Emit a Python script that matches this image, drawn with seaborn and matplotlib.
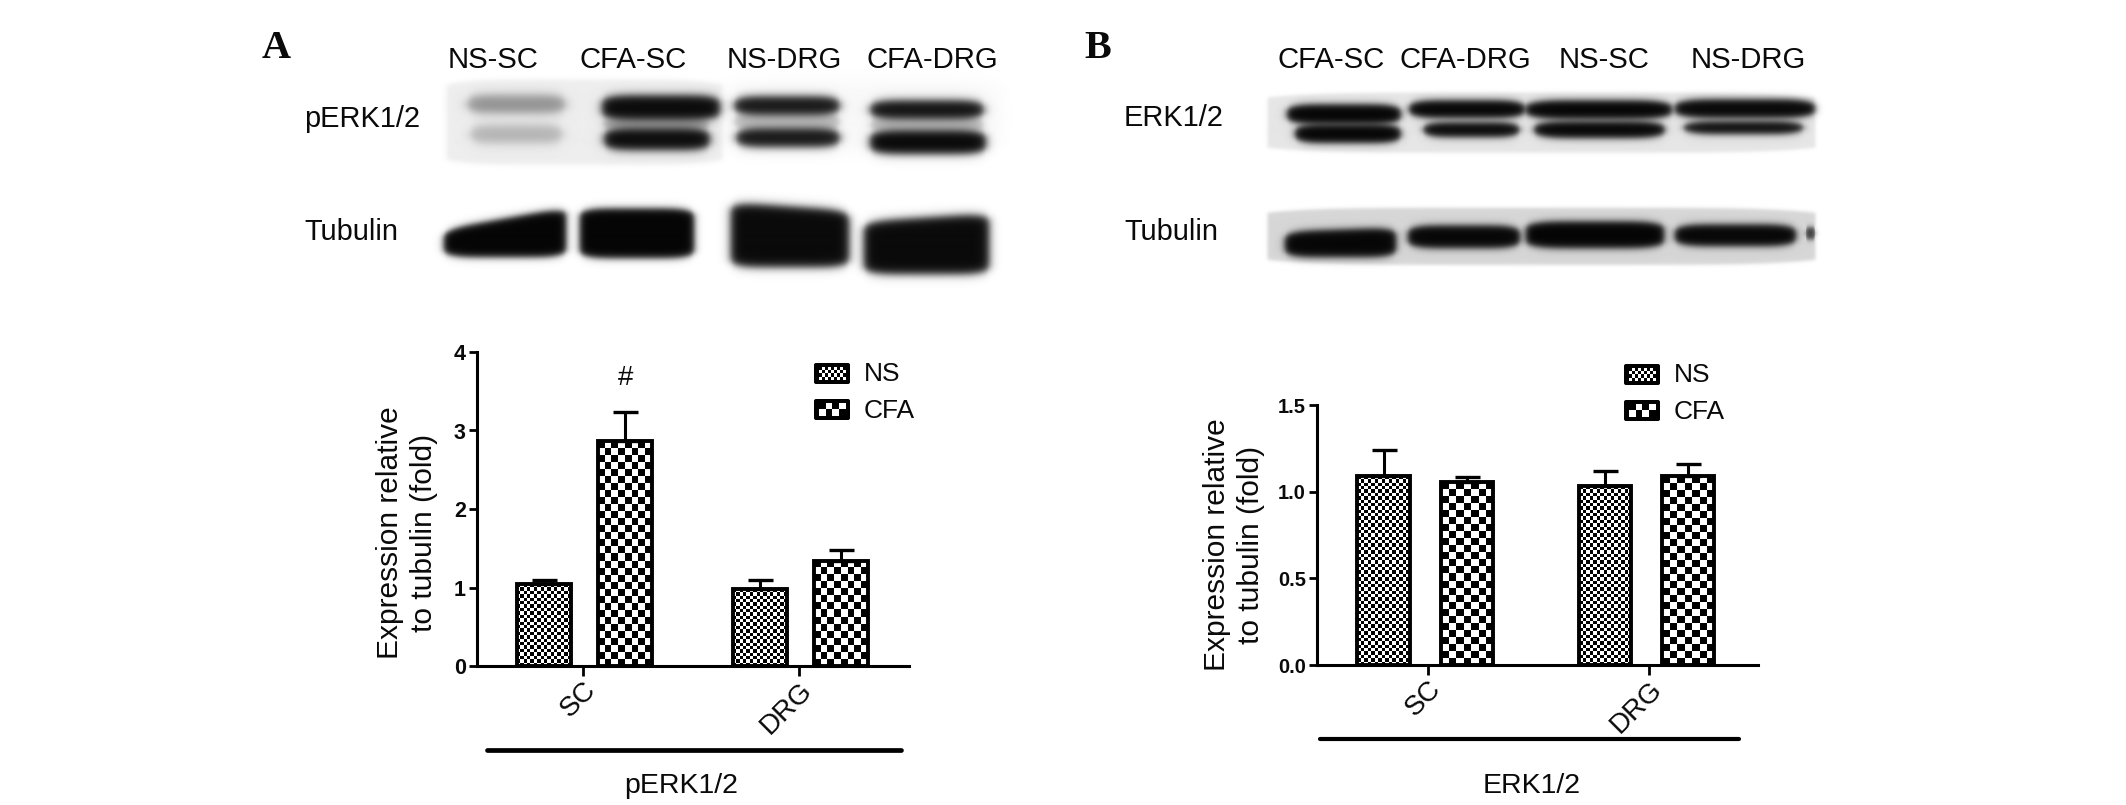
import numpy as np
import pandas as pd
import matplotlib
matplotlib.use('Agg')
import matplotlib.pyplot as plt
from matplotlib.patches import FancyBboxPatch
import seaborn as sns

W, H = 2126, 805

tissues = ['SC', 'DRG']
groups = ['NS', 'CFA']

# values
perk_ns = [1.04, 0.98]
perk_cfa = [2.86, 1.34]
perk_ns_hi = [1.10, 1.09]
perk_cfa_hi = [3.235, 1.48]
perk_ticks = [0, 1, 2, 3, 4]
perk_ticklabels = ['0', '1', '2', '3', '4']

erk_ns = [1.09, 1.03]
erk_cfa = [1.055, 1.09]
erk_ns_hi = [1.24, 1.12]
erk_cfa_hi = [1.087, 1.16]
erk_ticks = [0, 0.5, 1.0, 1.5]
erk_ticklabels = ['0.0', '0.5', '1.0', '1.5']

lanes_a = ['NS-SC', 'CFA-SC', 'NS-DRG', 'CFA-DRG']
lanes_b = ['CFA-SC', 'CFA-DRG', 'NS-SC', 'NS-DRG']

sns.set_theme(style='ticks')
plt.rcParams['font.family'] = ['Liberation Sans', 'DejaVu Sans']
plt.rcParams['text.color'] = '#0a0a0a'

fig = plt.figure(figsize=(W / 100, H / 100), dpi=100, facecolor='white')


def pixel_axes(left, right, top, bottom):
    return fig.add_axes([left / W, 1 - bottom / H, (right - left) / W, (bottom - top) / H])


# blots are drawn as one grey picture behind everything
X, Y = np.meshgrid(np.arange(W), np.arange(H))
blot = np.ones((H, W))


def edge(d, soft):
    return 1 / (1 + np.exp(-d / soft))


def band(x0, x1, y0, y1, level, soft=2.5, top_right=None):
    global blot
    grow = 2.5 if level < 0.8 else 0
    y0, y1 = y0 - grow, y1 + grow
    tr = y0 if top_right is None else top_right - grow
    top = y0 + (tr - y0) * (X - x0) / (x1 - x0)
    # ends of a band curve in a little
    u = np.clip((X - x0) / (x1 - x0), 0, 1)
    round_in = 5 * (2 * u - 1) ** 6
    m = (edge(X - x0, soft) * edge(x1 - X, soft)
         * edge(Y - top - round_in, soft) * edge(y1 - Y - round_in, soft))
    blot = blot * (1 - m * (1 - level))


# A, pERK1/2
band(446, 722, 80, 165, 0.93, 1.5)
band(722, 1000, 82, 150, 0.97, 6)
band(466, 566, 98, 111, 0.60, 3)
band(469, 563, 128, 141, 0.75, 3)
band(601, 720, 98, 118, 0.04, 2.5)
band(603, 710, 131, 148, 0.04, 2.5)
band(733, 840, 99, 113, 0.08, 2.5)
band(735, 840, 131, 145, 0.08, 2.5)
band(869, 984, 103, 117, 0.06, 2.5)
band(869, 986, 133, 152, 0.03, 2.5)
band(733, 840, 116, 128, 0.78, 2)
band(869, 984, 120, 130, 0.78, 2)
band(601, 710, 121, 128, 0.72, 2)

# A, tubulin
band(443, 566, 232, 255, 0.02, 2, top_right=210)
band(579, 694, 211, 256, 0.02, 2)
band(730, 849, 205, 265, 0.04, 2.5, top_right=213)
band(863, 989, 224, 272, 0.04, 2.5, top_right=216)

# B, ERK1/2
band(1267, 1815, 93, 153, 0.90, 1)
band(1286, 1401, 107, 122, 0.02, 2)
band(1294, 1401, 127, 141, 0.02, 2)
band(1408, 1525, 103, 116, 0.02, 2)
band(1422, 1520, 125, 135, 0.03, 2)
band(1525, 1672, 103, 117, 0.02, 2)
band(1533, 1665, 124, 136, 0.02, 2)
band(1674, 1815, 102, 116, 0.03, 2)
band(1682, 1804, 124, 132, 0.04, 2)

# B, tubulin
band(1267, 1815, 208, 265, 0.84, 1)
band(1284, 1396, 234, 255, 0.03, 2, top_right=230)
band(1407, 1520, 228, 246, 0.03, 2)
band(1525, 1664, 224, 246, 0.02, 2)
band(1674, 1796, 227, 244, 0.03, 2)
band(1805, 1815, 230, 237, 0.25, 1.5)

back = fig.add_axes([0, 0, 1, 1])
back.imshow(blot, cmap='gray', vmin=0, vmax=1, extent=(0, W, H, 0), aspect='auto', interpolation='bilinear')
back.set_xlim(0, W)
back.set_ylim(H, 0)
back.axis('off')


def checker(rows, cols):
    i, j = np.indices((rows, cols))
    return (i + j) % 2


def legend_key(x, y, cell):
    back.add_patch(FancyBboxPatch((x + 2, y + 2), 32, 17, boxstyle='round,pad=2', fc='black', ec='none', zorder=2))
    back.imshow(checker(round(13 / cell), round(27 / cell)), cmap='gray', vmin=0, vmax=1,
                extent=(x + 4.5, x + 31.5, y + 17, y + 4), aspect='auto', interpolation='nearest', zorder=3)
    back.set_xlim(0, W)
    back.set_ylim(H, 0)


def draw_panel(box, xlim, ylim, ns, cfa, ns_hi, cfa_hi, ticks, ticklabels, width, gap, tick_size, tick_shift):
    ax = pixel_axes(*box)
    ax.patch.set_alpha(0)
    df = pd.DataFrame({
        'tissue': tissues * 2,
        'group': [groups[0]] * 2 + [groups[1]] * 2,
        'value': ns + cfa,
    })
    sns.barplot(data=df, x='tissue', y='value', hue='group', hue_order=groups,
                palette={'NS': 'white', 'CFA': 'white'}, width=width, gap=gap,
                errorbar=None, legend=False, edgecolor='black', linewidth=2.8, ax=ax)
    ax.set_xlim(*xlim)
    ax.set_ylim(*ylim)

    bars = list(ax.patches)
    tops = ns_hi + cfa_hi
    for n, (bar, hi) in enumerate(zip(bars, tops)):
        cell = 3.4 if n < 2 else 7
        x0, x1 = bar.get_x(), bar.get_x() + bar.get_width()
        h = bar.get_height()
        p0 = ax.transData.transform((x0, 0))
        p1 = ax.transData.transform((x1, h))
        rows = max(1, int(round((p1[1] - p0[1]) / cell)))
        cols = max(1, int(round((p1[0] - p0[0]) / cell)))
        bar.set_facecolor('none')
        bar.set_zorder(2)
        ax.imshow(checker(rows, cols), cmap='gray', vmin=0, vmax=1, extent=(x0, x1, 0, h),
                  aspect='auto', interpolation='nearest', zorder=1)
        xc = (x0 + x1) / 2
        ax.errorbar([xc], [h], yerr=[[0], [hi - h]], color='black', elinewidth=2.2,
                    capsize=9, capthick=2.4, zorder=1.5)

    ax.set_xlim(*xlim)
    ax.set_ylim(*ylim)
    ax.set_yticks(ticks)
    ax.set_yticklabels(ticklabels, fontsize=tick_size, fontweight='bold')
    ax.set_xticks([i + tick_shift for i in range(len(tissues))])
    ax.set_xticklabels(tissues, rotation=45, ha='right', rotation_mode='anchor', fontsize=20)
    ax.tick_params(axis='y', length=6, width=2, color='black', pad=2, labelcolor='#0a0a0a')
    ax.tick_params(axis='x', length=7.5, width=2, color='black', pad=0.5, labelcolor='#0a0a0a')
    ax.set_xlabel('')
    ax.set_ylabel('')
    sns.despine(ax=ax)
    for s in ['left', 'bottom']:
        ax.spines[s].set_linewidth(2.2)
        ax.spines[s].set_color('black')
    return ax


ax_a = draw_panel((477, 909, 352, 666), (-0.498, 1.502), (0, 4), perk_ns, perk_cfa, perk_ns_hi, perk_cfa_hi,
                  perk_ticks, perk_ticklabels, 0.75, 0.34, 15.5, -0.008)
ax_b = draw_panel((1317, 1758, 405, 665), (-0.488, 1.502), (0, 1.5), erk_ns, erk_cfa, erk_ns_hi, erk_cfa_hi,
                  erk_ticks, erk_ticklabels, 0.75, 0.37, 14.5, 0.012)

ax_a.annotate('#', (ax_a.patches[2].get_x() + ax_a.patches[2].get_width() / 2, 3.67),
              ha='center', va='center', fontsize=20)

# everything around the two plots, in pixels of the picture
for name, xc in zip(lanes_a, [493, 633, 784, 932]):
    back.text(xc, 60, name, ha='center', va='center', fontsize=21.2)
for name, xc in zip(lanes_b, [1331, 1465, 1604, 1748]):
    back.text(xc, 60, name, ha='center', va='center', fontsize=21.2)

back.text(304, 119, 'pERK1/2', ha='left', va='center', fontsize=20.9)
back.text(304, 232, 'Tubulin', ha='left', va='center', fontsize=20.9)
back.text(1124, 118, 'ERK1/2', ha='left', va='center', fontsize=20.9)
back.text(1124, 232, 'Tubulin', ha='left', va='center', fontsize=20.9)

back.text(262, 49, 'A', family='Liberation Serif', fontweight='bold', fontsize=29, ha='left', va='center')
back.text(1084, 49, 'B', family='Liberation Serif', fontweight='bold', fontsize=29, ha='left', va='center')

back.text(407, 533, 'Expression relative\nto tubulin (fold)', rotation=90, ha='center', va='center',
          fontsize=21.5, multialignment='center', linespacing=1.3)
back.text(1234, 545, 'Expression relative\nto tubulin (fold)', rotation=90, ha='center', va='center',
          fontsize=21.5, multialignment='center', linespacing=1.25)

back.plot([487, 901], [750, 750], color='black', lw=3.4, solid_capstyle='round')
back.plot([1320, 1739], [739, 739], color='black', lw=3.0, solid_capstyle='round')
back.text(681, 786, 'pERK1/2', ha='center', va='center', fontsize=20.5)
back.text(1532, 786, 'ERK1/2', ha='center', va='center', fontsize=20.5)

for x0, ys in [(814, (363, 399)), (1624, (364, 400))]:
    legend_key(x0, ys[0], 3)
    legend_key(x0, ys[1], 6.5)
    back.text(x0 + 50, ys[0] + 11, groups[0], ha='left', va='center', fontsize=19)
    back.text(x0 + 50, ys[1] + 12, groups[1], ha='left', va='center', fontsize=19)

fig.savefig('out.png', dpi=100)
